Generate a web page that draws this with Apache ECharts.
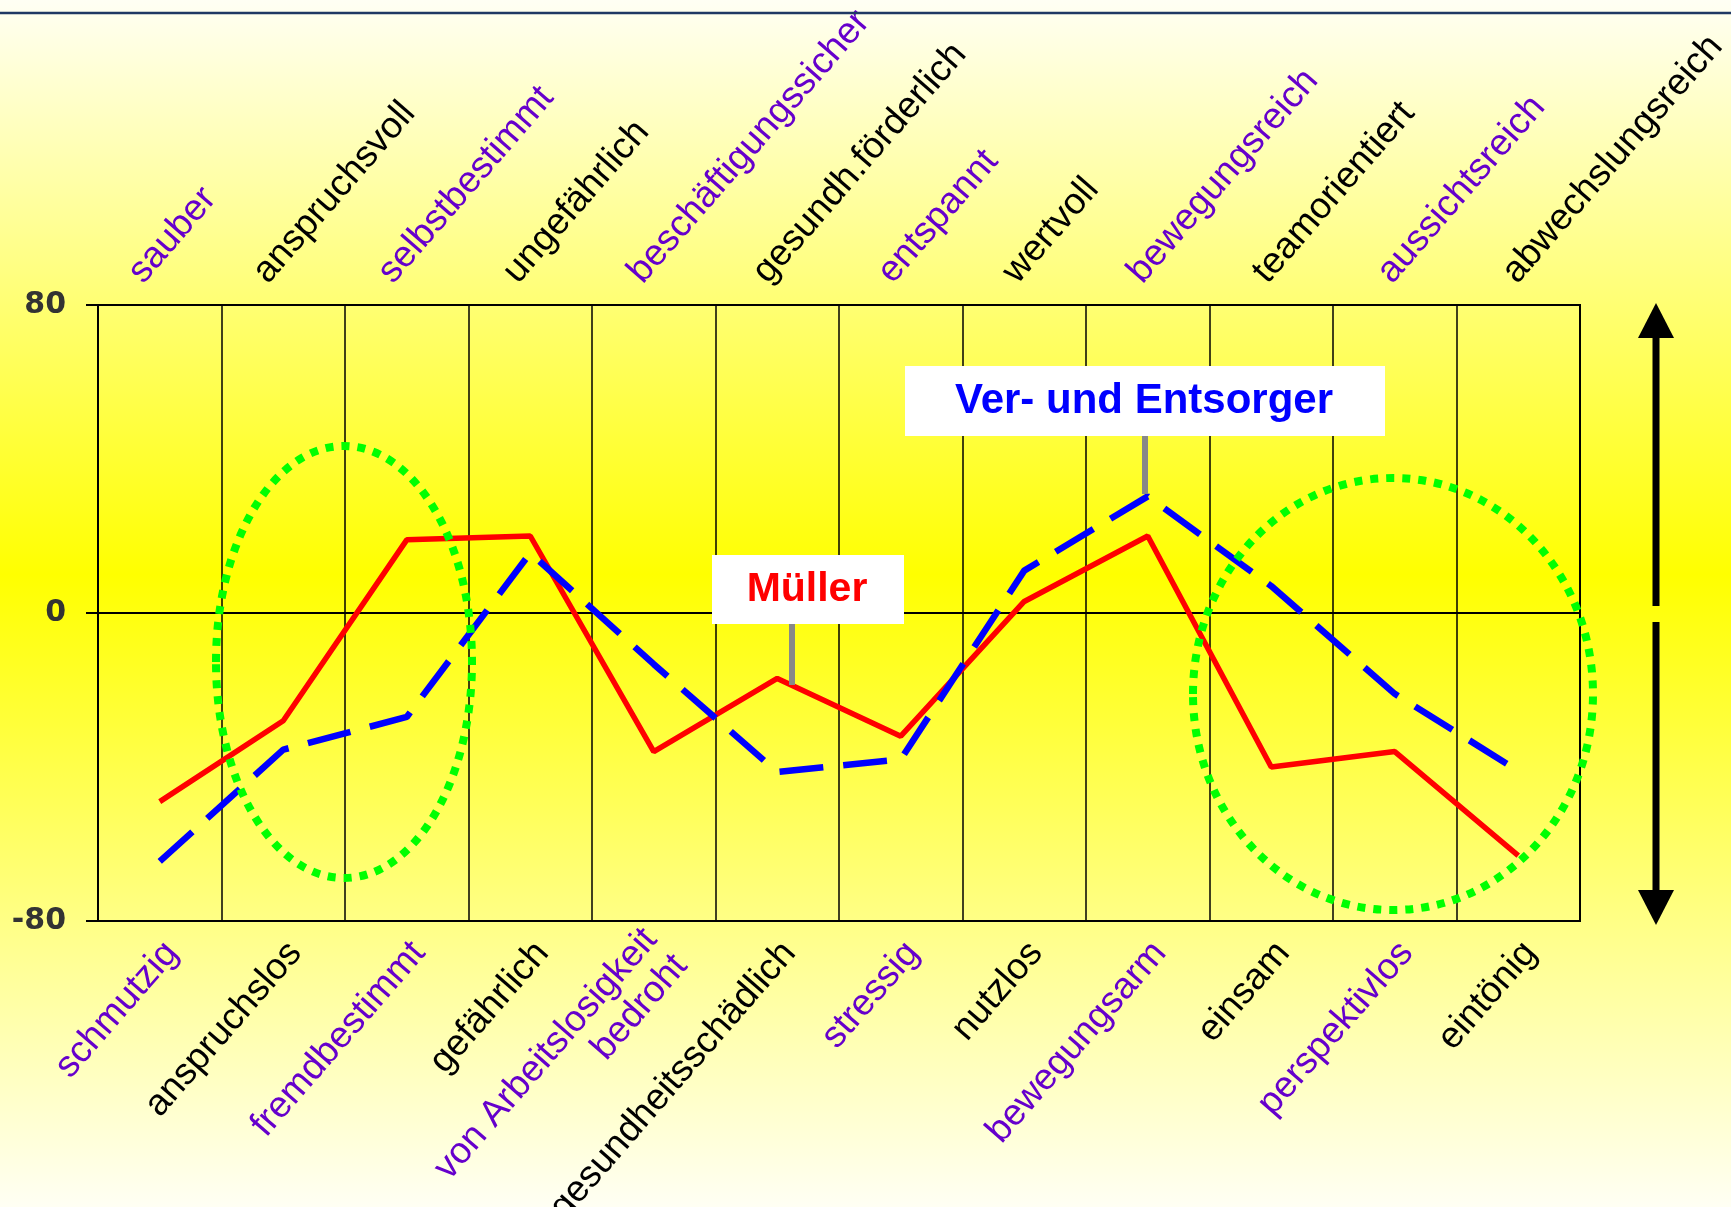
<!DOCTYPE html>
<html>
<head>
<meta charset="utf-8">
<script src="https://cdn.jsdelivr.net/npm/echarts@6.0.0/dist/echarts.min.js"></script>
<style>
  html, body { margin: 0; padding: 0; }
  #chart { width: 1731px; height: 1207px; }
</style>
</head>
<body>
<div id="chart"></div>
<script>
  // Polaritätsprofil: positive Eigenschaft oben, negative unten
  var topLabels = ['sauber', 'anspruchsvoll', 'selbstbestimmt', 'ungefährlich', 'beschäftigungssicher',
    'gesundh.förderlich', 'entspannt', 'wertvoll', 'bewegungsreich', 'teamorientiert', 'aussichtsreich',
    'abwechslungsreich'];
  var bottomLabels = ['schmutzig', 'anspruchslos', 'fremdbestimmt', 'gefährlich', 'von Arbeitslosigkeit\nbedroht',
    'gesundheitsschädlich', 'stressig', 'nutzlos', 'bewegungsarm', 'einsam', 'perspektivlos', 'eintönig'];
  var muellerValues = [-49, -28, 19, 20, -36, -17, -32, 3, 20, -40, -36, -63];
  var entsorgerValues = [-64.5, -35.5, -27, 15.6, -13.3, -41.3, -38, 11, 30.3, 7, -21, -41];
  var yTicks = [-80, 0, 80];

  var purple = '#6600cc';
  var labelFont = 'Liberation Sans, Arial, sans-serif';

  function labelColor(value, index) {
    return index % 2 === 0 ? purple : '#000000';
  }

  var options = {
    animation: false,
    backgroundColor: {
      type: 'linear', x: 0, y: 0, x2: 0, y2: 1,
      colorStops: [
        {offset: 0, color: '#fffff4'},
        {offset: 0.476, color: '#ffff00'},
        {offset: 1, color: '#fffff4'}
      ]
    },
    grid: [
      // Diagramm
      {left: 98, right: 151, top: 305, bottom: 286, outerBoundsMode: 'none',
        show: true, borderColor: '#000', borderWidth: 2},
      // nur Beschriftung oben
      {left: 73, right: 159, top: 305, bottom: 286, outerBoundsMode: 'none'},
      // nur Beschriftung unten
      {left: 110, right: 139, top: 305, bottom: 286, outerBoundsMode: 'none'}
    ],
    xAxis: [
      {
        gridIndex: 0, type: 'category', boundaryGap: true, data: bottomLabels,
        axisLine: {show: true, lineStyle: {color: '#000', width: 2}},
        axisTick: {show: false},
        axisLabel: {show: false, interval: 0},
        splitLine: {show: true, interval: 0, lineStyle: {color: '#000', width: 1.5}}
      },
      {
        gridIndex: 1, type: 'category', position: 'top', boundaryGap: true, data: topLabels,
        axisLine: {show: false}, axisTick: {show: false}, splitLine: {show: false},
        axisLabel: {
          interval: 0, rotate: 49, margin: 27,
          fontFamily: labelFont, fontSize: 37,
          color: labelColor
        }
      },
      {
        gridIndex: 2, type: 'category', position: 'bottom', boundaryGap: true, data: bottomLabels,
        axisLine: {show: false}, axisTick: {show: false}, splitLine: {show: false},
        axisLabel: {
          interval: 0, rotate: 49, margin: 26,
          fontFamily: labelFont, fontSize: 37, lineHeight: 40,
          color: labelColor
        }
      }
    ],
    yAxis: [
      {
        gridIndex: 0, type: 'value', min: yTicks[0], max: yTicks[2], interval: 80,
        axisLine: {show: true, lineStyle: {color: '#000', width: 2}},
        axisTick: {show: true, length: 12, lineStyle: {color: '#000', width: 2}},
        axisLabel: {
          margin: 32, color: '#333333', fontWeight: 'bold', fontSize: 30,
          fontFamily: 'DejaVu Sans, sans-serif'
        },
        splitLine: {show: true, lineStyle: {color: '#000', width: 1.5}}
      },
      {gridIndex: 1, type: 'value', show: false, min: -80, max: 80},
      {gridIndex: 2, type: 'value', show: false, min: -80, max: 80}
    ],
    series: [
      {
        name: 'Müller',
        type: 'line',
        xAxisIndex: 0, yAxisIndex: 0,
        symbol: 'none',
        lineStyle: {color: '#ff0000', width: 5.5},
        z: 3,
        data: muellerValues
      },
      {
        name: 'Ver- und Entsorger',
        type: 'line',
        xAxisIndex: 0, yAxisIndex: 0,
        symbol: 'none',
        lineStyle: {color: '#0000ff', width: 6.5, type: [44, 20], cap: 'butt'},
        z: 4,
        data: entsorgerValues
      }
    ],
    graphic: [
      // Trennlinie oben
      {type: 'line', z: 10, shape: {x1: 0, y1: 13, x2: 1731, y2: 13}, style: {stroke: '#1f3864', lineWidth: 2.5}},
      // gruene Markierungen
      {type: 'ellipse', z: 50, shape: {cx: 344, cy: 662, rx: 128, ry: 216},
        style: {fill: null, stroke: '#00ff00', lineWidth: 8, lineDash: [8, 8]}},
      {type: 'ellipse', z: 50, shape: {cx: 1393, cy: 694, rx: 200, ry: 216},
        style: {fill: null, stroke: '#00ff00', lineWidth: 8, lineDash: [8, 8]}},
      // Beschriftung Ver- und Entsorger
      {type: 'rect', z: 60, shape: {x: 905, y: 366, width: 480, height: 70}, style: {fill: '#ffffff'}},
      {type: 'text', z: 61, x: 1144, y: 401,
        style: {text: 'Ver- und Entsorger', fill: '#0000ff', font: 'bold 42px Liberation Sans, Arial, sans-serif',
          textAlign: 'center', textVerticalAlign: 'middle', align: 'center', verticalAlign: 'middle'}},
      {type: 'line', z: 60, shape: {x1: 1145, y1: 436, x2: 1145, y2: 494}, style: {stroke: '#888888', lineWidth: 6}},
      // Beschriftung Mueller
      {type: 'rect', z: 60, shape: {x: 712, y: 555, width: 192, height: 69}, style: {fill: '#ffffff'}},
      {type: 'text', z: 61, x: 807, y: 590,
        style: {text: 'Müller', fill: '#ff0000', font: 'bold 41px Liberation Sans, Arial, sans-serif',
          textAlign: 'center', textVerticalAlign: 'middle', align: 'center', verticalAlign: 'middle'}},
      {type: 'line', z: 60, shape: {x1: 792, y1: 624, x2: 792, y2: 685}, style: {stroke: '#888888', lineWidth: 6}},
      // Doppelpfeil rechts
      {type: 'polygon', z: 20, shape: {points: [[1656, 303], [1638, 338], [1674, 338]]}, style: {fill: '#000'}},
      {type: 'rect', z: 20, shape: {x: 1652.5, y: 337, width: 7, height: 269}, style: {fill: '#000'}},
      {type: 'rect', z: 20, shape: {x: 1652.5, y: 622, width: 7, height: 269}, style: {fill: '#000'}},
      {type: 'polygon', z: 20, shape: {points: [[1638, 890], [1674, 890], [1656, 925]]}, style: {fill: '#000'}}
    ]
  };

  var myEcharts = echarts.init(document.getElementById('chart'));
  myEcharts.setOption(options, true);
  window.addEventListener('resize', function () {
    myEcharts.resize();
  });
</script>
</body>
</html>
